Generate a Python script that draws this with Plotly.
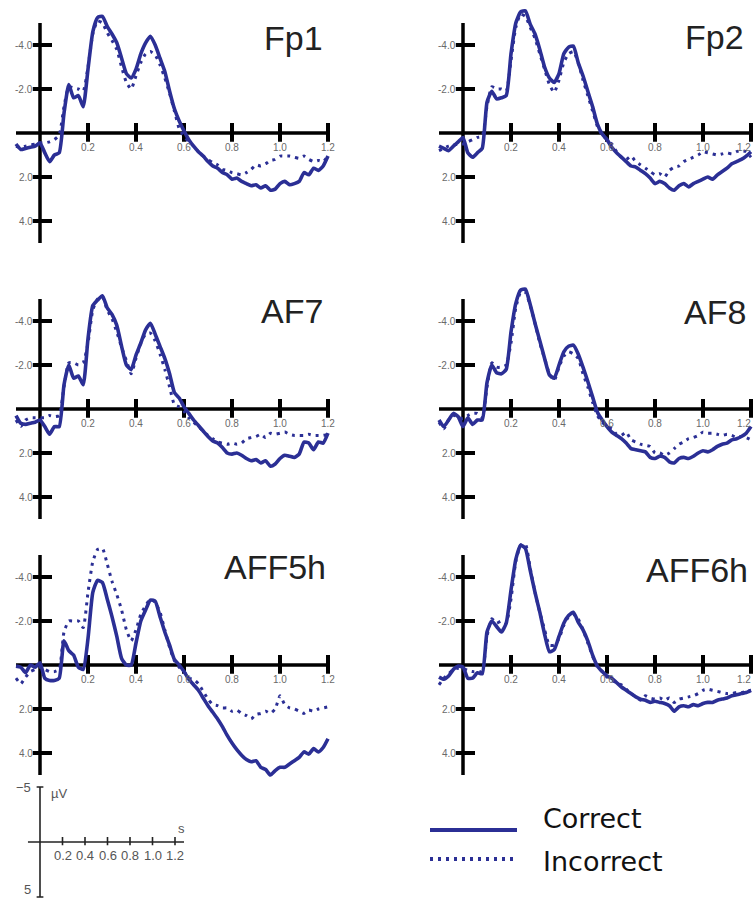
import plotly.graph_objects as go

W, H = 754, 901
BLUE = "#2b2f95"

# ---------------- data (µV, negative plotted upward) ----------------
time_s = [-0.10, -0.08, -0.06, -0.04, -0.02, 0.00, 0.02, 0.04, 0.06, 0.08,
          0.10, 0.12, 0.14, 0.16, 0.18, 0.20, 0.22, 0.24, 0.26, 0.28,
          0.30, 0.32, 0.34, 0.36, 0.38, 0.40, 0.42, 0.44, 0.46, 0.48,
          0.50, 0.52, 0.54, 0.56, 0.58, 0.60, 0.62, 0.64, 0.66, 0.68,
          0.70, 0.72, 0.74, 0.76, 0.78, 0.80, 0.82, 0.84, 0.86, 0.88,
          0.90, 0.92, 0.94, 0.96, 0.98, 1.00, 1.02, 1.04, 1.06, 1.08,
          1.10, 1.12, 1.14, 1.16, 1.18, 1.20]

fp1_correct = [0.5, 0.75, 0.7, 0.65, 0.6, 0.45, 0.9, 1.3, 1.0, 0.9,
               -0.9, -2.2, -1.6, -1.7, -1.2, -2.9, -4.6, -5.25, -5.3, -4.85,
               -4.5, -4.1, -3.4, -2.7, -2.5, -2.9, -3.6, -4.1, -4.4, -4.0,
               -3.4, -2.8, -1.9, -1.1, -0.55, -0.1, 0.3, 0.6, 0.85, 1.05,
               1.3, 1.5, 1.6, 1.8, 1.9, 2.1, 2.05, 2.2, 2.3, 2.4,
               2.35, 2.5, 2.4, 2.6, 2.55, 2.3, 2.2, 2.35, 2.3, 2.2,
               1.8, 1.9, 1.6, 1.7, 1.5, 1.05]
fp1_incorrect = [0.6, 0.65, 0.6, 0.55, 0.5, 0.45, 0.45, 0.4, 0.3, 0.1,
                 -1.2, -2.1, -2.05, -2.0, -1.9, -3.0, -4.5, -5.1, -5.0, -4.55,
                 -4.2, -3.8, -3.0, -2.3, -2.0, -2.6, -3.2, -3.6, -3.7, -3.55,
                 -3.1, -2.5, -1.8, -1.0, -0.2, 0.15, 0.4, 0.6, 0.85, 1.05,
                 1.2, 1.35, 1.45, 1.65, 1.7, 1.8, 1.85, 1.9, 1.8, 1.65,
                 1.45, 1.5, 1.4, 1.25, 1.2, 1.05, 1.05, 1.05, 1.1, 1.15,
                 1.05, 1.2, 1.3, 1.25, 1.3, 1.05]

fp2_correct = [0.6, 0.7, 0.8, 0.6, 0.4, 0.2, 0.9, 1.1, 0.9, 0.7,
               -1.4, -1.9, -1.55, -1.6, -1.7, -3.6, -5.0, -5.5, -5.55, -4.95,
               -4.5, -3.8, -3.0, -2.5, -2.3, -2.7, -3.6, -3.9, -3.95, -3.2,
               -2.6, -1.9, -1.2, -0.4, 0.05, 0.3, 0.65, 0.9, 1.1, 1.3,
               1.5, 1.55, 1.7, 1.85, 2.05, 2.3, 2.2, 2.3, 2.5, 2.6,
               2.4, 2.3, 2.45, 2.3, 2.2, 2.1, 2.0, 2.1, 1.9, 1.75,
               1.6, 1.4, 1.3, 1.2, 1.05, 0.85]
fp2_incorrect = [0.8, 0.7, 0.6, 0.55, 0.5, 0.5, 0.4, 0.3, 0.2, 0.15,
                 -1.2, -2.1, -2.0, -2.0, -1.9, -3.3, -4.8, -5.4, -5.3, -4.8,
                 -4.3, -3.6, -2.9, -2.2, -1.85, -2.4, -3.2, -3.6, -3.7, -3.2,
                 -2.4, -1.7, -1.0, -0.3, 0.1, 0.3, 0.5, 0.85, 1.1, 1.2,
                 1.05, 1.3, 1.45, 1.6, 1.75, 1.9, 1.85, 2.0, 1.7, 1.55,
                 1.5, 1.3, 1.2, 1.1, 1.0, 0.85, 0.9, 0.95, 1.0, 0.95,
                 0.9, 0.95, 0.85, 0.8, 0.85, 1.1]

af7_correct = [0.3, 0.65, 0.7, 0.65, 0.6, 0.5, 0.8, 1.15, 0.8, 0.8,
               -1.1, -2.0, -1.4, -1.5, -1.1, -3.2, -4.7, -4.95, -5.15, -4.6,
               -4.3, -3.8, -2.85, -2.0, -1.8, -2.45, -3.0, -3.6, -3.9, -3.4,
               -2.85, -2.3, -1.6, -0.75, -0.5, -0.1, 0.2, 0.5, 0.75, 1.0,
               1.25, 1.45, 1.55, 1.75, 2.0, 2.05, 2.0, 2.1, 2.25, 2.35,
               2.3, 2.45, 2.35, 2.6, 2.5, 2.25, 2.1, 2.15, 2.2, 2.05,
               1.5, 1.55, 1.85, 1.5, 1.55, 1.1]
af7_incorrect = [0.5, 0.8, 0.5, 0.4, 0.4, 0.4, 0.4, 0.3, 0.35, 0.3,
                 -1.0, -2.1, -2.1, -2.0, -2.1, -3.0, -4.5, -5.0, -5.1, -4.5,
                 -4.1, -3.5, -2.8, -2.2, -1.6, -2.3, -3.0, -3.4, -3.45, -3.1,
                 -2.5, -1.8, -1.0, -0.2, -0.1, 0.1, 0.4, 0.6, 0.8, 1.0,
                 1.2, 1.35, 1.5, 1.55, 1.6, 1.55, 1.6, 1.55, 1.35, 1.3,
                 1.25, 1.15, 1.3, 1.1, 1.15, 1.1, 1.05, 1.15, 1.2, 1.2,
                 1.2, 1.15, 1.2, 1.2, 1.2, 1.15]

af8_correct = [0.5, 0.8, 0.5, 0.2, 0.35, 0.8, 0.4, 0.7, 0.5, 0.5,
               -1.2, -2.0, -1.65, -1.6, -1.8, -3.5, -4.8, -5.4, -5.45, -4.75,
               -3.9, -3.1, -2.3, -1.55, -1.4, -2.0, -2.6, -2.85, -2.9, -2.5,
               -1.9, -1.25, -0.55, 0.15, 0.5, 0.8, 1.05, 1.2, 1.35, 1.55,
               1.8, 1.85, 1.9, 1.95, 2.2, 2.25, 2.15, 2.2, 2.4, 2.45,
               2.25, 2.2, 2.25, 2.15, 2.0, 1.9, 1.95, 1.85, 1.7, 1.6,
               1.55, 1.4, 1.35, 1.25, 1.1, 0.8]
af8_incorrect = [0.6, 0.9, 0.5, 0.3, 0.35, 0.45, 0.3, 0.2, 0.2, 0.4,
                 -1.0, -2.1, -1.9, -1.9, -2.0, -3.0, -4.6, -5.3, -5.3, -4.7,
                 -3.9, -3.0, -2.3, -1.6, -1.3, -1.9, -2.4, -2.6, -2.5, -2.3,
                 -1.6, -1.0, -0.3, 0.3, 0.6, 0.8, 0.9, 1.15, 1.2, 1.05,
                 1.4, 1.5, 1.6, 1.65, 1.7, 2.0, 2.0, 2.1, 2.0, 1.8,
                 1.6, 1.5, 1.35, 1.3, 1.2, 1.05, 1.1, 1.1, 1.15, 1.2,
                 1.15, 1.2, 1.3, 1.25, 1.3, 1.4]

aff5h_correct = [0.05, 0.1, 0.35, 0.0, 0.1, -0.1, 0.6, 0.7, 0.7, 0.6,
                 -1.1, -0.65, -0.45, 0.1, 0.2, -1.2, -3.3, -3.85, -3.75, -3.0,
                 -2.2, -1.3, -0.3, 0.0, 0.0, -1.0, -2.0, -2.5, -2.95, -2.9,
                 -2.2, -1.5, -0.9, -0.25, 0.0, 0.3, 0.65, 0.9, 1.15, 1.5,
                 1.85, 2.15, 2.45, 2.8, 3.2, 3.55, 3.85, 4.1, 4.3, 4.4,
                 4.35, 4.65, 4.75, 5.0, 4.8, 4.65, 4.65, 4.5, 4.35, 4.2,
                 3.95, 4.05, 3.8, 3.95, 3.75, 3.35]
aff5h_incorrect = [0.6, 0.85, 0.55, 0.3, 0.2, 0.1, 0.2, 0.3, 0.3, 0.2,
                   -1.5, -2.0, -2.0, -2.0, -1.7, -3.3, -4.7, -5.25, -5.3, -4.6,
                   -3.8, -3.2, -2.5, -1.6, -1.1, -1.6, -2.3, -2.7, -3.0, -2.85,
                   -2.4, -1.6, -0.8, -0.2, 0.1, 0.3, 0.6, 0.65, 0.85, 1.2,
                   1.55, 1.8, 1.85, 1.95, 1.95, 2.1, 2.05, 2.2, 2.3, 2.45,
                   2.25, 2.2, 2.1, 2.2, 2.0, 1.4, 1.8, 1.95, 2.0, 2.1,
                   2.2, 2.05, 2.1, 2.0, 1.95, 1.9]

aff6h_correct = [0.55, 0.65, 0.5, 0.2, 0.05, 0.1, 0.6, 0.6, 0.35, 0.4,
                 -1.5, -2.0, -1.75, -1.5, -1.9, -3.4, -4.8, -5.45, -5.3, -4.3,
                 -3.3, -2.4, -1.4, -0.6, -0.7, -1.3, -1.9, -2.25, -2.4, -1.95,
                 -1.6, -1.1, -0.45, 0.05, 0.3, 0.5, 0.6, 0.8, 1.0, 1.15,
                 1.3, 1.45, 1.55, 1.6, 1.7, 1.65, 1.7, 1.75, 1.85, 2.1,
                 1.9, 1.85, 1.9, 1.8, 1.85, 1.75, 1.7, 1.7, 1.6, 1.55,
                 1.5, 1.4, 1.35, 1.3, 1.25, 1.15]
aff6h_incorrect = [0.9, 0.6, 0.4, 0.2, 0.15, 0.15, 0.25, 0.3, 0.3, 0.3,
                   -1.3, -2.1, -1.9, -2.0, -1.9, -3.0, -4.7, -5.45, -5.5, -4.4,
                   -3.3, -2.4, -1.6, -0.9, -0.9, -1.2, -1.8, -2.2, -2.3, -2.1,
                   -1.6, -1.0, -0.4, 0.1, 0.3, 0.55, 0.7, 0.8, 0.9, 1.1,
                   1.3, 1.45, 1.6, 1.4, 1.5, 1.55, 1.5, 1.6, 1.5, 1.7,
                   1.55, 1.5, 1.45, 1.4, 1.3, 1.15, 1.1, 1.15, 1.2, 1.25,
                   1.3, 1.3, 1.25, 1.25, 1.2, 1.15]

channels = ["Fp1", "Fp2", "AF7", "AF8", "AFF5h", "AFF6h"]
correct_series = [fp1_correct, fp2_correct, af7_correct, af8_correct, aff5h_correct, aff6h_correct]
incorrect_series = [fp1_incorrect, fp2_incorrect, af7_incorrect, af8_incorrect, aff5h_incorrect, aff6h_incorrect]

x_ticks = [0.2, 0.4, 0.6, 0.8, 1.0, 1.2]
y_ticks = [-4.0, -2.0, 2.0, 4.0]
scale_x_ticks = [0.2, 0.4, 0.6, 0.8, 1.0, 1.2]
legend_labels = ["Correct", "Incorrect"]

# ---------------- geometry (pixels) ----------------
PX_PER_S = 240.0
PX_PER_UV = 22.0
col_origin = [40, 463]
row_zero = [133, 409, 665]
title_pos = [(325, 38), (746, 37), (325, 311), (748, 312), (328, 567), (750, 570)]


def fx(px):
    return px / W


def fy(py):
    return 1 - py / H


fig = go.Figure()
layout = dict(width=W, height=H, margin=dict(l=0, r=0, t=0, b=0),
              paper_bgcolor="white", plot_bgcolor="rgba(0,0,0,0)",
              showlegend=False)
shapes = []
annotations = []
AX = "black"
TICKFONT = dict(family="Liberation Sans Narrow, Arial Narrow, Liberation Sans, sans-serif",
                size=10, color="#6a6a6a")

for k, name in enumerate(channels):
    i = k + 1
    ox = col_origin[k % 2]
    oy = row_zero[k // 2]
    xmin = -0.12
    xmax = min(1.24, (W - ox) / PX_PER_S)
    ytop, ybot = -5.8, 5.3
    layout[f"xaxis{i}"] = dict(domain=[fx(ox + xmin * PX_PER_S), min(1.0, fx(ox + xmax * PX_PER_S))],
                               range=[xmin, xmax], visible=False, anchor=f"y{i}", fixedrange=True)
    layout[f"yaxis{i}"] = dict(domain=[fy(oy + ybot * PX_PER_UV), fy(oy + ytop * PX_PER_UV)],
                               range=[ybot, ytop], visible=False, anchor=f"x{i}", fixedrange=True)
    xr, yr = f"x{i}", f"y{i}"
    # axes crossing at zero
    shapes.append(dict(type="line", xref=xr, yref=yr, x0=-0.1, x1=1.2, y0=0, y1=0,
                       line=dict(color=AX, width=3.5), layer="below"))
    shapes.append(dict(type="line", xref=xr, yref=yr, x0=0, x1=0, y0=-5, y1=5,
                       line=dict(color=AX, width=3.5), layer="below"))
    for t in x_ticks:
        shapes.append(dict(type="line", xref=xr, yref=yr, x0=t, x1=t, y0=-0.45, y1=0.4,
                           line=dict(color=AX, width=4), layer="below"))
        # keep labels inside the page at the right edge
        if ox + t * PX_PER_S + 8 > W:
            annotations.append(dict(xref="paper", yref=yr, x=fx(W - 1), y=0.66, text=f"{t:.1f}",
                                    showarrow=False, xanchor="right", yanchor="middle", font=TICKFONT))
        else:
            annotations.append(dict(xref=xr, yref=yr, x=t, y=0.66, text=f"{t:.1f}",
                                    showarrow=False, xanchor="center", yanchor="middle", font=TICKFONT))
    for v in y_ticks:
        shapes.append(dict(type="line", xref=xr, yref=yr, x0=-0.03, x1=0.05, y0=v, y1=v,
                           line=dict(color=AX, width=4), layer="below"))
        annotations.append(dict(xref=xr, yref=yr, x=-0.022, y=v, text=f"{v:.1f}",
                                showarrow=False, xanchor="right", yanchor="middle", font=TICKFONT))
    # curves
    fig.add_trace(go.Scatter(x=time_s, y=incorrect_series[k], xaxis=xr, yaxis=yr, mode="lines",
                             name="Incorrect", hoverinfo="skip",
                             line=dict(color=BLUE, width=3, dash="3px,5px", shape="spline", smoothing=0.5)))
    fig.add_trace(go.Scatter(x=time_s, y=correct_series[k], xaxis=xr, yaxis=yr, mode="lines",
                             name="Correct", hoverinfo="skip",
                             line=dict(color=BLUE, width=3.6, shape="spline", smoothing=0.5)))
    tx, ty = title_pos[k]
    annotations.append(dict(xref="paper", yref="paper", x=fx(tx), y=fy(ty), text=name,
                            showarrow=False, xanchor="right", yanchor="middle",
                            font=dict(family="Liberation Sans, Arial, sans-serif", size=34, color="#222222")))

# ---------------- scale bar panel ----------------
i = 7
sox, soy = 40, 842
S_PX_PER_S = 112.5
S_PX_PER_UV = 11.0
sxmin, sxmax = -0.2, 1.4
sytop, sybot = -5.5, 5.3
layout[f"xaxis{i}"] = dict(domain=[fx(sox + sxmin * S_PX_PER_S), fx(sox + sxmax * S_PX_PER_S)],
                           range=[sxmin, sxmax], visible=False, anchor=f"y{i}", fixedrange=True)
layout[f"yaxis{i}"] = dict(domain=[max(0.0, fy(soy + sybot * S_PX_PER_UV)), fy(soy + sytop * S_PX_PER_UV)],
                           range=[sybot, sytop], visible=False, anchor=f"x{i}", fixedrange=True)
xr, yr = "x7", "y7"
SCL = "#222222"
shapes.append(dict(type="line", xref=xr, yref=yr, x0=-0.107, x1=1.28, y0=0, y1=0,
                   line=dict(color=SCL, width=1.6)))
shapes.append(dict(type="line", xref=xr, yref=yr, x0=0, x1=0, y0=-5, y1=5,
                   line=dict(color=SCL, width=1.6)))
for v in [-5, 5]:
    shapes.append(dict(type="line", xref=xr, yref=yr, x0=-0.03, x1=0.03, y0=v, y1=v,
                       line=dict(color=SCL, width=1.6)))
SFONT = dict(family="Liberation Sans, Arial, sans-serif", size=13, color="#555555")
for t in scale_x_ticks:
    shapes.append(dict(type="line", xref=xr, yref=yr, x0=t, x1=t, y0=-0.45, y1=0.3,
                       line=dict(color=SCL, width=1.6)))
    annotations.append(dict(xref=xr, yref=yr, x=t, y=1.2, text=f"{t:.1f}", showarrow=False,
                            xanchor="center", yanchor="middle", font=SFONT))
annotations.append(dict(xref=xr, yref=yr, x=-0.065, y=-5, text="\u22125", showarrow=False,
                        xanchor="right", yanchor="middle", font=SFONT))
annotations.append(dict(xref=xr, yref=yr, x=-0.065, y=4.35, text="5", showarrow=False,
                        xanchor="right", yanchor="middle", font=SFONT))
annotations.append(dict(xref=xr, yref=yr, x=0.08, y=-4.4, text="\u00b5V", showarrow=False,
                        xanchor="left", yanchor="middle", font=SFONT))
annotations.append(dict(xref=xr, yref=yr, x=1.255, y=-1.2, text="s", showarrow=False,
                        xanchor="center", yanchor="middle", font=SFONT))

# ---------------- legend (manual) ----------------
LFONT = dict(family="Comic Sans MS, DejaVu Sans, sans-serif", size=27, color="#111111")
legend_rows = [(830, 818, None, 4), (859, 861, "3px,5px", 4)]
for (ly, tyy, dash, w), label in zip(legend_rows, legend_labels):
    line = dict(color=BLUE, width=w)
    if dash:
        line["dash"] = dash
    shapes.append(dict(type="line", xref="paper", yref="paper", x0=fx(430), x1=fx(517),
                       y0=fy(ly), y1=fy(ly), line=line))
    annotations.append(dict(xref="paper", yref="paper", x=fx(541), y=fy(tyy), text=label,
                            showarrow=False, xanchor="left", yanchor="middle", font=LFONT))

layout["shapes"] = shapes
layout["annotations"] = annotations
fig.update_layout(**layout)
fig.write_html("out.html")
